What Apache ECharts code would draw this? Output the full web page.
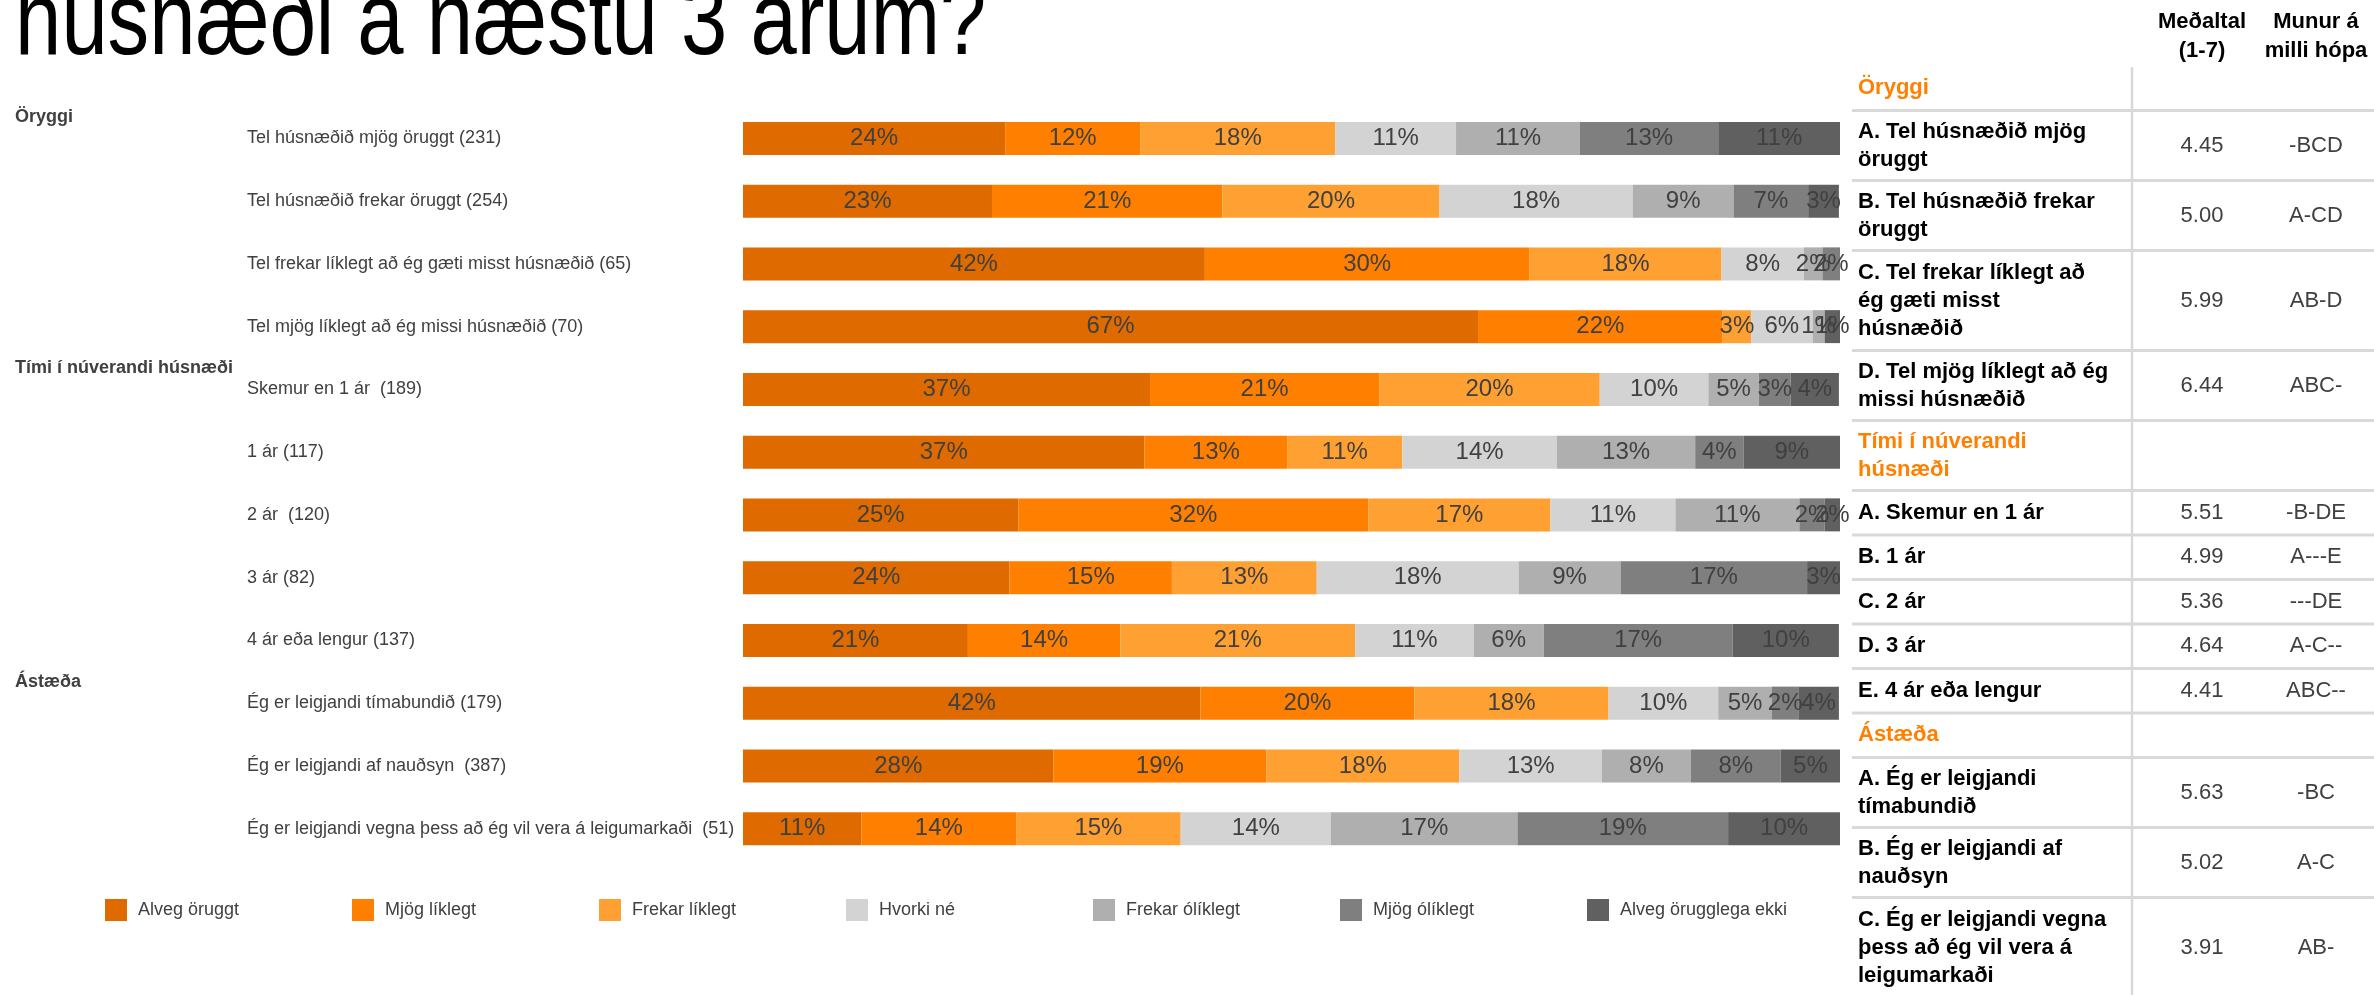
<!DOCTYPE html>
<html>
<head>
<meta charset="utf-8">
<script src="https://cdn.jsdelivr.net/npm/echarts@6/dist/echarts.min.js"></script>
<style>
html,body{margin:0;padding:0;background:#fff;}
#chart{width:2374px;height:995px;}
</style>
</head>
<body>
<div id="chart"></div>
<script>
// ---- data ----
const categories = [
  'Tel húsnæðið mjög öruggt (231)',
  'Tel húsnæðið frekar öruggt (254)',
  'Tel frekar líklegt að ég gæti misst húsnæðið (65)',
  'Tel mjög líklegt að ég missi húsnæðið (70)',
  'Skemur en 1 ár  (189)',
  '1 ár (117)',
  '2 ár  (120)',
  '3 ár (82)',
  '4 ár eða lengur (137)',
  'Ég er leigjandi tímabundið (179)',
  'Ég er leigjandi af nauðsyn  (387)',
  'Ég er leigjandi vegna þess að ég vil vera á leigumarkaði  (51)'
];
const groupNames = ['Öryggi', 'Tími í núverandi húsnæði', 'Ástæða'];
const groupStart = [0, 4, 9];

const seriesNames = ['Alveg öruggt', 'Mjög líklegt', 'Frekar líklegt', 'Hvorki né', 'Frekar ólíklegt', 'Mjög ólíklegt', 'Alveg örugglega ekki'];
const alvegOruggt   = [23.9, 22.7, 42.1, 67.0, 37.1, 36.6, 25.1, 24.3, 20.5, 41.7, 28.3, 10.8];
const mjogLiklegt   = [12.3, 21.0, 29.6, 22.3, 20.9, 13.0, 31.9, 14.8, 13.9, 19.5, 19.4, 14.1];
const frekarLiklegt = [17.8, 19.8, 17.5, 2.6, 20.1, 10.5, 16.6, 13.2, 21.4, 17.7, 17.6, 15.0];
const hvorkiNe      = [11.0, 17.6, 7.5, 5.6, 9.9, 14.1, 11.4, 18.4, 10.8, 10.0, 13.0, 13.7];
const frekarOlik    = [11.3, 9.2, 1.7, 1.1, 4.6, 12.6, 11.3, 9.3, 6.4, 4.9, 8.1, 17.0];
const mjogOlik      = [12.6, 6.8, 1.6, 0, 2.9, 4.4, 2.3, 17.0, 17.2, 2.4, 8.2, 19.2];
const alvegEkki     = [11.1, 2.8, 0, 1.4, 4.4, 8.8, 1.9, 3.0, 9.7, 3.7, 5.4, 10.2];
const seriesValues = [alvegOruggt, mjogLiklegt, frekarLiklegt, hvorkiNe, frekarOlik, mjogOlik, alvegEkki];
const seriesColors = ['#DE6A00', '#FF7F00', '#FFA033', '#D3D3D3', '#AFAFAF', '#7F7F7F', '#606060'];

const titleText = 'húsnæði á næstu 3 árum?';
const headerMean = 'Meðaltal\n(1-7)';
const headerDiff = 'Munur á\nmilli hópa';
const tableLabels = [
  'Öryggi',
  'A. Tel húsnæðið mjög\nöruggt',
  'B. Tel húsnæðið frekar\nöruggt',
  'C. Tel frekar líklegt að\nég gæti misst\nhúsnæðið',
  'D. Tel mjög líklegt að ég\nmissi húsnæðið',
  'Tími í núverandi\nhúsnæði',
  'A. Skemur en 1 ár',
  'B. 1 ár',
  'C. 2 ár',
  'D. 3 ár',
  'E. 4 ár eða lengur',
  'Ástæða',
  'A. Ég er leigjandi\ntímabundið',
  'B. Ég er leigjandi af\nnauðsyn',
  'C. Ég er leigjandi vegna\nþess að ég vil vera á\nleigumarkaði'
];
const tableIsHeading = [true, false, false, false, false, true, false, false, false, false, false, true, false, false, false];
const tableMeans = ['', '4.45', '5.00', '5.99', '6.44', '', '5.51', '4.99', '5.36', '4.64', '4.41', '', '5.63', '5.02', '3.91'];
const tableDiffs = ['', '-BCD', 'A-CD', 'AB-D', 'ABC-', '', '-B-DE', 'A---E', '---DE', 'A-C--', 'ABC--', '', '-BC', 'A-C', 'AB-'];

// ---- chart ----
const FONT = '"Liberation Sans", Arial, sans-serif';
const chart = echarts.init(document.getElementById('chart'), null, {renderer: 'canvas'});

const series = seriesNames.map((name, i) => ({
  name: name,
  type: 'bar',
  stack: 'total',
  barWidth: 33,
  data: seriesValues[i],
  itemStyle: {color: seriesColors[i]},
  label: {
    show: true,
    position: 'inside',
    color: '#404040',
    fontSize: 24,
    fontFamily: FONT,
    formatter: p => p.value > 0 ? Math.round(p.value) + '%' : ''
  },
  emphasis: {disabled: true}
}));

const legends = seriesNames.map((name, i) => ({
  data: [name],
  left: 105 + i * 247,
  top: 899,
  padding: 0,
  icon: 'rect',
  itemWidth: 22,
  itemHeight: 22,
  selectedMode: false,
  textStyle: {color: '#404040', fontSize: 18, fontFamily: FONT, padding: [0, 0, 0, 6]}
}));

chart.setOption({
  animation: false,
  backgroundColor: '#ffffff',
  grid: {left: 743, right: 534, top: 107, bottom: 135},
  xAxis: {type: 'value', min: 0, max: 100, show: false},
  yAxis: {
    type: 'category',
    inverse: true,
    data: categories,
    axisLine: {show: false},
    axisTick: {show: false},
    splitLine: {show: false},
    axisLabel: {
      interval: 0,
      align: 'left',
      margin: 496,
      color: '#404040',
      fontSize: 18,
      fontFamily: FONT
    }
  },
  legend: legends,
  series: series
});

// ---- graphics: title, group labels, table ----
const graphics = [];
graphics.push({
  type: 'text', x: 15, y: 25, scaleX: 0.8, scaleY: 1,
  style: {text: titleText, font: '104px ' + FONT, fill: '#000', verticalAlign: 'middle', align: 'left'}
});

groupNames.forEach((g, i) => {
  const y = chart.convertToPixel({yAxisIndex: 0}, categories[groupStart[i]]);
  graphics.push({
    type: 'text', x: 15, y: y - 21,
    style: {text: g, font: 'bold 18px ' + FONT, fill: '#404040', verticalAlign: 'middle', align: 'left'}
  });
});

// table
const tblLeft = 1852, tblRight = 2374, labelX = 1858, dividerX = 2132;
const meanX = 2202, diffX = 2316;
const lineH = 28;
function rowHeight(n) { return n === 1 ? 44.5 : (n === 2 ? 70 : 100); }

graphics.push({
  type: 'text', x: meanX, y: 36,
  style: {text: headerMean, font: 'bold 22px ' + FONT, fill: '#000', align: 'center', verticalAlign: 'middle', lineHeight: 29}
});
graphics.push({
  type: 'text', x: diffX, y: 36,
  style: {text: headerDiff, font: 'bold 22px ' + FONT, fill: '#000', align: 'center', verticalAlign: 'middle', lineHeight: 29}
});
graphics.push({
  type: 'line', shape: {x1: dividerX, y1: 67, x2: dividerX, y2: 995},
  style: {stroke: '#D9D9D9', lineWidth: 2.5}
});

let yCur = 66;
tableLabels.forEach((lab, i) => {
  const n = lab.split('\n').length;
  const h = rowHeight(n);
  const cy = yCur + h / 2;
  graphics.push({
    type: 'text', x: labelX, y: cy,
    style: {
      text: lab,
      font: 'bold 22px ' + FONT,
      fill: tableIsHeading[i] ? '#FF8000' : '#000',
      align: 'left', verticalAlign: 'middle', lineHeight: lineH
    }
  });
  if (tableMeans[i]) {
    graphics.push({
      type: 'text', x: meanX, y: cy,
      style: {text: tableMeans[i], font: '22px ' + FONT, fill: '#404040', align: 'center', verticalAlign: 'middle'}
    });
    graphics.push({
      type: 'text', x: diffX, y: cy,
      style: {text: tableDiffs[i], font: '22px ' + FONT, fill: '#404040', align: 'center', verticalAlign: 'middle'}
    });
  }
  yCur += h;
  if (i < tableLabels.length - 1) {
    graphics.push({
      type: 'line', shape: {x1: tblLeft, y1: yCur, x2: tblRight, y2: yCur},
      style: {stroke: '#D9D9D9', lineWidth: 3}
    });
  }
});

chart.setOption({graphic: graphics});
</script>
</body>
</html>
